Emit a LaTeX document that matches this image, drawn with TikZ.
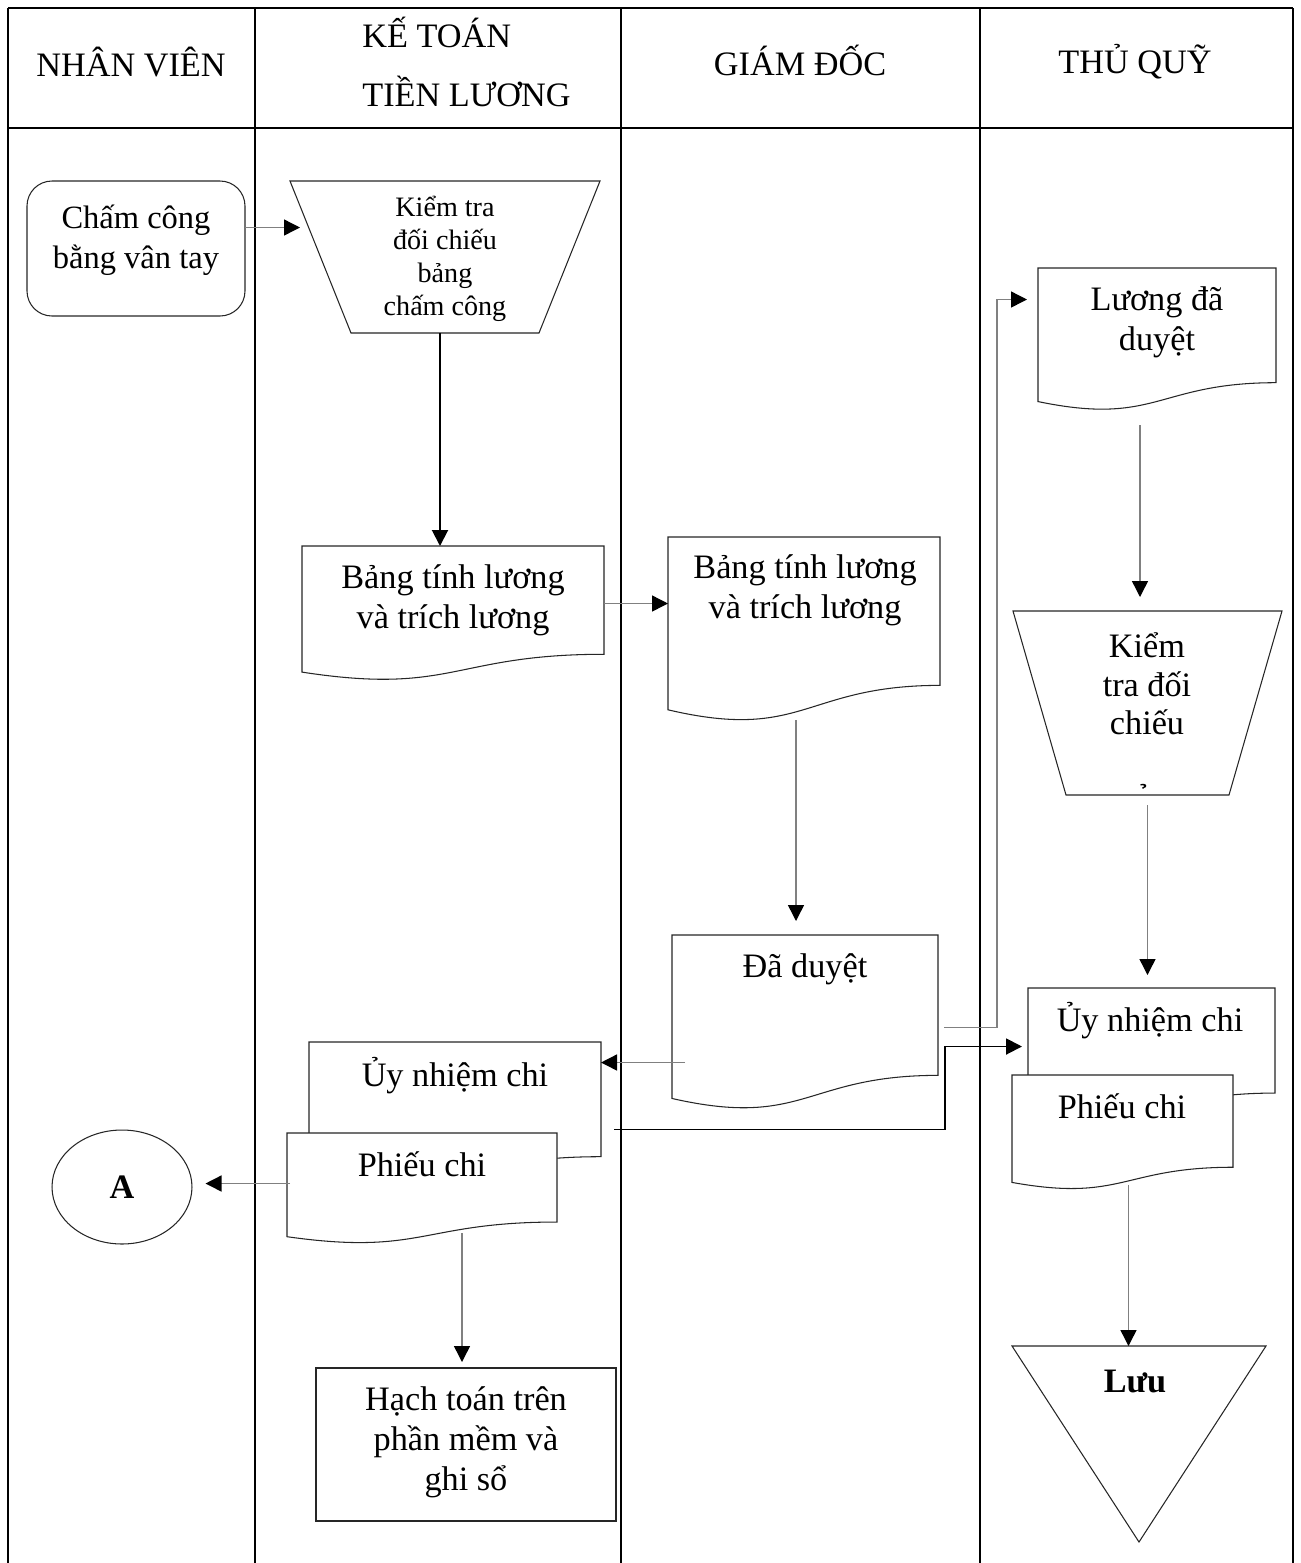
\documentclass[tikz,border=0pt]{standalone}
\usepackage{fontspec}
\setmainfont{Liberation Serif}
\usetikzlibrary{arrows.meta,calc,fit,shapes.geometric}

\newcommand{\docpath}[1]{%
  \draw[outline] (#1.north west) -- (#1.north east)
    -- ($(#1.north east)!0.802!(#1.south east)$)
    .. controls ($(#1.north)!0.802!(#1.south)$) and ($(#1.north)!1.107!(#1.south)$)
    .. ($(#1.north west)!0.934!(#1.south west)$) -- cycle;}
\newcommand{\trappath}[2]{%
  \draw[outline] (#1.north west) -- (#1.north east)
    -- ($(#1.south east)+(-#2,0)$) -- ($(#1.south west)+(#2,0)$) -- cycle;}
\newcommand{\funnelpath}[1]{%
  \draw[outline] (#1.north west) -- (#1.north east) -- (#1.south) -- cycle;}

\begin{document}
\begin{tikzpicture}[x=0.02cm, y=-0.02cm,
    frame/.style={inner sep=0pt, outer sep=0pt},
    outline/.style={draw=black!85, line width=0.6pt, fill=white},
    lane/.style={line width=1.2pt},
    head/.style={font=\fontsize{19.5}{34}\selectfont, align=center, inner sep=0pt},
    txt/.style={font=\fontsize{19.5}{22.7}\selectfont, align=center, inner sep=0pt},
    flow/.style={draw=black!50, line width=0.8pt, -{Triangle[length=0.32cm, width=0.32cm, color=black]}},
    flowbold/.style={draw=black, line width=1.1pt, -{Triangle[length=0.32cm, width=0.32cm]}}]

	\useasboundingbox (0,0) rectangle (1301,1563);

	\draw[line width=1.6pt] (8,8) -- (1293,8) (8,128) -- (1293,128);
	\draw[lane] (8,8) -- (8,1563) (255,8) -- (255,1563) (621,8) -- (621,1563)
	  (980,8) -- (980,1563) (1293,8) -- (1293,1563);

	\node (nv) at (131,62) [head] {NHÂN VIÊN};
	\node (ktl) at (362,62) [head, align=left, anchor=west] {KẾ TOÁN\\TIỀN LƯƠNG};
	\node (gd) at (800,60) [head] {GIÁM ĐỐC};
	\node (tq) at (1135,62) [head] {THỦ QUỸ};

	\node (chamcong) [frame, fit={(27,181) (245,316)}, draw=black!85, line width=0.6pt, rounded corners=0.5cm] {};
	\node (tchamcong) at (136,240) [txt, font=\fontsize{18.5}{22.7}\selectfont] {Chấm công\\bằng vân tay};

	\node (kiemtra1) [frame, fit={(290,181) (600,333)}] {};
	\trappath{kiemtra1}{61}
	\node (tkiemtra1) at (445,259) [txt, font=\fontsize{16}{18.7}\selectfont] {Kiểm tra\\đối chiếu\\bảng\\chấm công};

	\node (bangtinh1) [frame, fit={(302,546) (604,681)}] {};
	\docpath{bangtinh1}
	\node (tbangtinh1) at (453,600) [txt] {Bảng tính lương\\và trích lương};

	\node (bangtinh2) [frame, fit={(668,537) (940,722)}] {};
	\docpath{bangtinh2}
	\node (tbangtinh2) at (805,590) [txt] {Bảng tính lương\\và trích lương};

	\node (daduyet) [frame, fit={(672,935) (938,1110)}] {};
	\docpath{daduyet}
	\node (tdaduyet) at (805,969) [txt] {Đã duyệt};

	\node (luongdd) [frame, fit={(1038,268) (1276,411)}] {};
	\docpath{luongdd}
	\node (tluongdd) at (1157,322) [txt] {Lương đã\\duyệt};

	\node (kiemtra2) [frame, fit={(1013,611) (1282,795)}] {};
	\trappath{kiemtra2}{53}
	\node (tkiemtra2) at (1147,684) [txt, font=\fontsize{19.5}{22}\selectfont] {Kiểm\\tra đối\\chiếu};
	\node (thook) at (1147,797) [txt, font=\fontsize{16}{18}\selectfont] {\char"0309};

	\node (unc2) [frame, fit={(1028,988) (1275,1119)}] {};
	\docpath{unc2}
	\node (tunc2) at (1150,1021) [txt] {Ủy nhiệm chi};

	\node (pc2) [frame, fit={(1012,1075) (1233,1190)}] {};
	\docpath{pc2}
	\node (tpc2) at (1122,1106) [txt] {Phiếu chi};

	\node (luu) [frame, fit={(1012,1346) (1266,1542)}] {};
	\funnelpath{luu}
	\node (tluu) at (1135,1381) [txt, font=\bfseries\fontsize{19.5}{22.7}\selectfont] {Lưu};

	\node (unc1) [frame, fit={(309,1042) (601,1185)}] {};
	\docpath{unc1}
	\node (tunc1) at (455,1076) [txt] {Ủy nhiệm chi};

	\node (pc1) [frame, fit={(287,1133) (557,1244)}] {};
	\docpath{pc1}
	\node (tpc1) at (422,1164) [txt] {Phiếu chi};

	\node (keta) at (122,1187) [shape=ellipse, draw=black!85, line width=0.6pt, minimum width=2.8cm, minimum height=2.28cm, inner sep=0pt, font=\bfseries\fontsize{19.5}{22.7}\selectfont] {A};

	\node (hachtoan) [frame, fit={(316,1368) (616,1521)}, draw=black!85, line width=0.6pt] {};
	\node (thachtoan) at (466,1442) [txt] {Hạch toán trên\\phần mềm và\\ghi sổ};

	\draw[flow] ($(chamcong.east)+(0,-21)$) coordinate (c1) -- ($(c1 -| kiemtra1.west)+(10,0)$);
	\draw[flowbold] ($(kiemtra1.south)+(-5,0)$) -- ($(kiemtra1.south |- bangtinh1.north)+(-5,0)$);
	\draw[flow] ($(bangtinh1.east)+(0,-10)$) coordinate (c3) -- (c3 -| bangtinh2.west);
	\draw[flow, shorten >=0.28cm] ($(bangtinh2.south)+(-8,-2)$) coordinate (c4) -- (c4 |- daduyet.north);
	\draw[flow] ($(daduyet.west)+(13,40)$) coordinate (c5) -- (c5 -| unc1.east);
	\draw[flow] ($(daduyet.east)+(6,5)$) -- ++(53,0) |- ($(luongdd.west)+(-11,-40)$);
	\draw[flow, shorten >=0.28cm] ($(luongdd.south)+(-17,14)$) coordinate (c7) -- (c7 |- kiemtra2.north);
	\draw[flow, shorten >=0.26cm] ($(kiemtra2.south)+(0,10)$) coordinate (c8) -- (c8 |- unc2.north);
	\draw[flowbold] ($(unc1.east)+(13,16)$) -- ++(331,0) |- ($(unc2.west)+(-6,-7)$);
	\draw[flow] ($(pc2.south)+(6,-5)$) coordinate (c10) -- (c10 |- luu.north);
	\draw[flow, shorten >=0.26cm] ($(pc1.west)+(3,-5)$) coordinate (c11) -- (c11 -| keta.east);
	\draw[flow, shorten >=0.12cm] ($(pc1.south)+(40,-11)$) coordinate (c12) -- (c12 |- hachtoan.north);
\end{tikzpicture}
\end{document}
